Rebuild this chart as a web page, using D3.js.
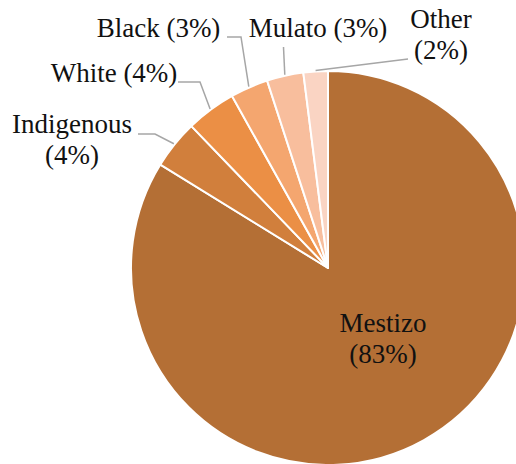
<!DOCTYPE html>
<html>
<head>
<meta charset="utf-8">
<script src="https://cdn.jsdelivr.net/npm/d3@7"></script>
</head>
<body style="margin:0">
<script>
// Data
const groups = ['Mestizo', 'Indigenous', 'White', 'Black', 'Mulato', 'Other']
const shares = [83.8, 4.0, 4.1, 3.1, 3.0, 2.0]
const pctLabels = ['83%', '4%', '4%', '3%', '3%', '2%']
const colors = ['#B46F35', '#D17F3C', '#EB8F45', '#F4A66F', '#F8BE9D', '#FAD4C3']

// Label layout, relative to pie centre (lines = number of text rows)
const labelLayout = [
  { at: [55, 64], lines: 2, leader: null },
  { at: [-256, -135], lines: 2, leader: [[-173, -134], [-190, -134]] },
  { at: [-214, -186], lines: 1, leader: [[-128, -186], [-150, -186]] },
  { at: [-169.5, -231], lines: 1, leader: [[-87, -231], [-101, -231]] },
  { at: [-10, -231], lines: 1, leader: [[-44.5, -221]] },
  { at: [113, -240], lines: 2, leader: [[80, -209]] }
]

const width = 516
const height = 464
const cx = 328
const cy = 268
const radius = 197

const svg = d3.select('body').append('svg')
  .attr('width', width)
  .attr('height', height)

const g = svg.append('g')
  .attr('transform', `translate(${cx},${cy})`)

// Pie starts at 12 o'clock, Mestizo first clockwise
const pie = d3.pie().sort(null).value(d => d)
const arcs = pie(shares)

const arc = d3.arc().innerRadius(0).outerRadius(radius)

g.selectAll('path.slice')
  .data(arcs)
  .join('path')
  .attr('class', 'slice')
  .attr('d', arc)
  .attr('fill', (d, i) => colors[i])
  .attr('stroke', '#fff')
  .attr('stroke-width', 2)
  .attr('stroke-linejoin', 'round')

// Leader lines from slice edge at mid angle
const line = d3.line()

arcs.forEach((d, i) => {
  const lay = labelLayout[i]
  if (!lay.leader) return
  const mid = (d.startAngle + d.endAngle) / 2
  const start = [Math.sin(mid) * (radius + 1), -Math.cos(mid) * (radius + 1)]
  g.append('path')
    .attr('d', line([start].concat(lay.leader)))
    .attr('fill', 'none')
    .attr('stroke', '#A6A6A6')
    .attr('stroke-width', 1.5)
})

// Labels
g.selectAll('text.label')
  .data(arcs)
  .join('text')
  .attr('class', 'label')
  .attr('x', (d, i) => labelLayout[i].at[0])
  .attr('y', (d, i) => labelLayout[i].at[1])
  .attr('text-anchor', 'middle')
  .attr('font-size', 27)
  .style('font-family', '"Liberation Serif"')
  .attr('fill', '#111')
  .each(function (d, i) {
    const lay = labelLayout[i]
    const t = d3.select(this)
    if (lay.lines === 2) {
      t.append('tspan').attr('x', lay.at[0]).text(groups[i])
      t.append('tspan').attr('x', lay.at[0]).attr('dy', 31).text('(' + pctLabels[i] + ')')
    } else {
      t.text(groups[i] + ' (' + pctLabels[i] + ')')
    }
  })
</script>
</body>
</html>
